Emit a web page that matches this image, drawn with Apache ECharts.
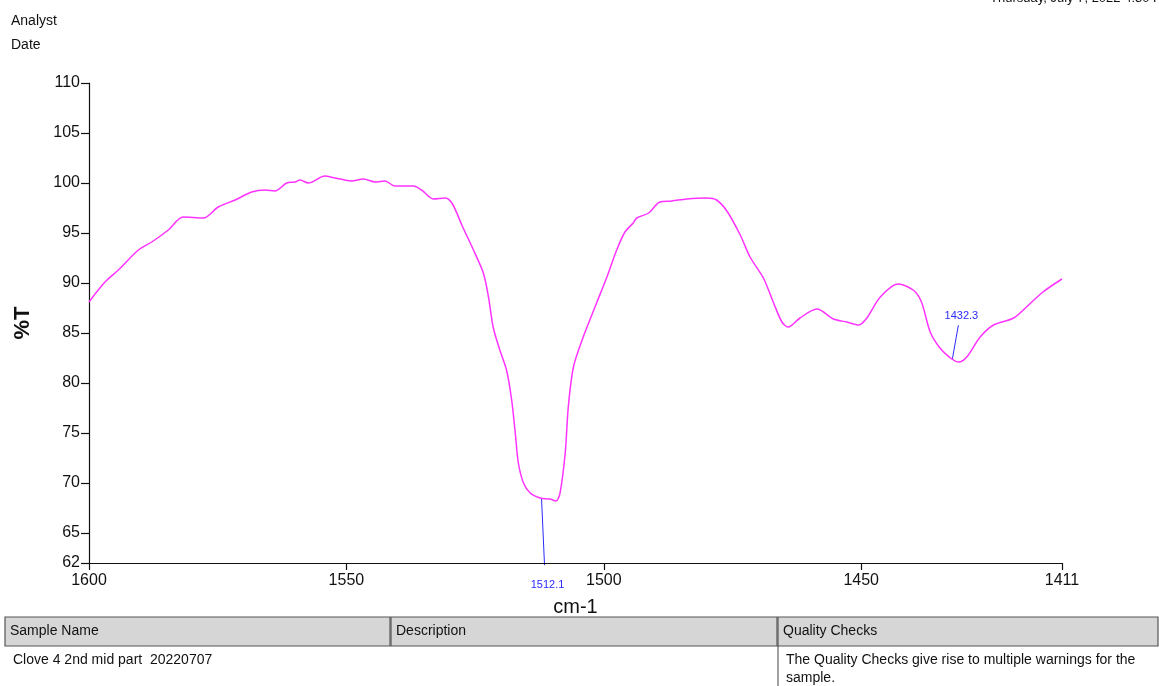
<!DOCTYPE html>
<html>
<head>
<meta charset="utf-8">
<script src="https://cdn.jsdelivr.net/npm/echarts@6/dist/echarts.min.js"></script>
<style>
html,body{margin:0;padding:0;background:#fff;}
#chart{width:1159px;height:686px;}
</style>
</head>
<body>
<div id="chart"></div>
<script>
// ---- data ----
const wavenumbers = [1600.0,1596.9,1594.3,1590.4,1587.8,1584.6,1581.7,1577.8,1574.9,1571.6,1568.4,1565.8,1563.9,1561.6,1560.0,1559.0,1557.4,1554.2,1552.2,1549.0,1546.7,1544.4,1542.5,1540.6,1537.0,1535.4,1533.1,1530.8,1529.4,1527.5,1525.5,1523.4,1522.4,1521.5,1520.2,1518.9,1517.9,1517.2,1516.6,1515.6,1514.3,1512.4,1510.5,1509.3,1508.5,1507.5,1506.9,1505.9,1504.0,1501.4,1499.4,1497.5,1495.9,1494.3,1493.6,1491.3,1489.1,1486.8,1483.9,1480.0,1478.1,1476.1,1473.5,1471.6,1469.0,1467.1,1465.4,1464.2,1461.9,1458.6,1455.4,1452.8,1450.5,1448.9,1446.3,1442.8,1439.9,1438.3,1436.6,1434.7,1432.4,1431.1,1429.5,1426.9,1424.3,1420.4,1417.9,1414.7,1411.0];
const transmittance = [88.1,90.1,91.3,93.3,94.1,95.3,96.6,96.5,97.6,98.3,99.1,99.3,99.2,100.0,100.1,100.3,100.0,100.7,100.5,100.2,100.4,100.1,100.2,99.7,99.7,99.3,98.4,98.5,97.9,95.7,93.5,91.0,88.6,85.6,83.3,81.3,78.3,75.0,72.0,70.0,69.0,68.5,68.4,68.2,69.0,73.0,77.6,81.6,84.6,88.0,90.6,93.3,95.1,96.0,96.5,97.0,98.1,98.2,98.4,98.5,98.3,97.2,94.8,92.6,90.5,88.1,86.1,85.6,86.5,87.4,86.4,86.1,85.8,86.5,88.6,89.9,89.3,88.1,85.1,83.5,82.4,82.1,82.6,84.6,85.8,86.5,87.6,89.1,90.4];
const xTickLabels = [1600, 1550, 1500, 1450, 1411];
const yTickLabels = [62, 65, 70, 75, 80, 85, 90, 95, 100, 105, 110];
const peakLabels = [1512.1, 1432.3];
const tableHeaders = ['Sample Name', 'Description', 'Quality Checks'];
const tableRow = ['Clove 4 2nd mid part  20220707', '', 'The Quality Checks give rise to multiple warnings for the\nsample.'];

// ---- chart ----
const chart = echarts.init(document.getElementById('chart'), null, {renderer: 'canvas'});
const FONT = '"Liberation Sans", Arial, sans-serif';
const seriesData = wavenumbers.map((w, i) => [w, transmittance[i]]);

function interpT(w) {
  for (let i = 0; i < wavenumbers.length - 1; i++) {
    const a = wavenumbers[i], b = wavenumbers[i + 1];
    if ((w <= a && w >= b)) {
      const t = (a - w) / (a - b);
      return transmittance[i] + t * (transmittance[i + 1] - transmittance[i]);
    }
  }
  return transmittance[0];
}

const colX = [5, 391, 778, 1159];
const headTop = 617, headBot = 646;
const graphics = [
  {type: 'text', left: 11, top: 14, style: {text: 'Analyst', font: '14px ' + FONT, fill: '#111'}},
  {type: 'text', left: 11, top: 38, style: {text: 'Date', font: '14px ' + FONT, fill: '#111'}},
  {type: 'text', x: 990, y: 5, style: {text: 'Thursday, July 7, 2022 4:30 PM', font: '13px ' + FONT, fill: '#111', textVerticalAlign: 'bottom'}}
];
for (let i = 0; i < 3; i++) {
  graphics.push({type: 'rect', shape: {x: colX[i], y: headTop, width: colX[i + 1] - colX[i] - 1, height: headBot - headTop},
    style: {fill: '#d6d6d6', stroke: '#555', lineWidth: 1.2}});
  graphics.push({type: 'text', x: colX[i] + 5, y: (headTop + headBot) / 2,
    style: {text: tableHeaders[i], font: '14px ' + FONT, fill: '#111', textVerticalAlign: 'middle'}});
  if (tableRow[i]) {
    graphics.push({type: 'text', x: colX[i] + 8, y: 651,
      style: {text: tableRow[i], font: '14px ' + FONT, fill: '#111', lineHeight: 18}});
  }
}
graphics.push({type: 'line', shape: {x1: 778, y1: headBot, x2: 778, y2: 686}, style: {stroke: '#444', lineWidth: 1}});

chart.setOption({
  animation: false,
  backgroundColor: '#fff',
  grid: {left: 89, right: 97, top: 83, bottom: 123, containLabel: false, outerBoundsMode: 'none'},
  xAxis: {
    type: 'value', min: 1411, max: 1600, inverse: true,
    name: 'cm-1', nameLocation: 'middle', nameGap: 34,
    nameTextStyle: {fontFamily: FONT, fontSize: 20, color: '#111'},
    axisLine: {show: true, onZero: false, lineStyle: {color: '#111', width: 1.2}},
    axisTick: {show: true, length: 7, customValues: xTickLabels, lineStyle: {color: '#111', width: 1.2}},
    axisLabel: {customValues: xTickLabels, formatter: v => String(v), fontFamily: FONT, fontSize: 16, color: '#111', margin: 10,
      showMinLabel: true, showMaxLabel: true},
    splitLine: {show: false}
  },
  yAxis: {
    type: 'value', min: 62, max: 110,
    name: '%T', nameLocation: 'middle', nameGap: 55, nameRotate: 90,
    nameTextStyle: {fontFamily: FONT, fontSize: 22, fontWeight: 'bold', color: '#111'},
    axisLine: {show: true, onZero: false, lineStyle: {color: '#111', width: 1.2}},
    axisTick: {show: true, length: 8, customValues: yTickLabels, lineStyle: {color: '#111', width: 1.2}},
    axisLabel: {customValues: yTickLabels, formatter: v => String(v), fontFamily: FONT, fontSize: 16, color: '#111', margin: 9,
      showMinLabel: true, showMaxLabel: true},
    splitLine: {show: false}
  },
  series: [{
    type: 'line', data: seriesData, showSymbol: false, smooth: 0.3,
    lineStyle: {color: '#ff33ff', width: 1.5}, itemStyle: {color: '#ff33ff'}
  }],
  graphic: graphics
});

// peak annotations anchored on data coordinates
const peakOffsets = [{dx: 3, dy: 67, lx: 3, ly: 20}, {dx: 6, dy: -34, lx: 3, ly: -9}];
const extra = [];
peakLabels.forEach((p, i) => {
  const pt = chart.convertToPixel({gridIndex: 0}, [p, interpT(p)]);
  const o = peakOffsets[i];
  const ex = pt[0] + o.dx, ey = pt[1] + o.dy;
  extra.push({type: 'line', shape: {x1: pt[0], y1: pt[1], x2: ex, y2: ey}, style: {stroke: '#2a2aff', lineWidth: 1}});
  extra.push({type: 'text', x: ex + o.lx, y: ey + o.ly,
    style: {text: p.toFixed(1), font: '11px ' + FONT, fill: '#2a2aff', textAlign: 'center', textVerticalAlign: 'middle'}});
});
chart.setOption({graphic: graphics.concat(extra)});
</script>
</body>
</html>
